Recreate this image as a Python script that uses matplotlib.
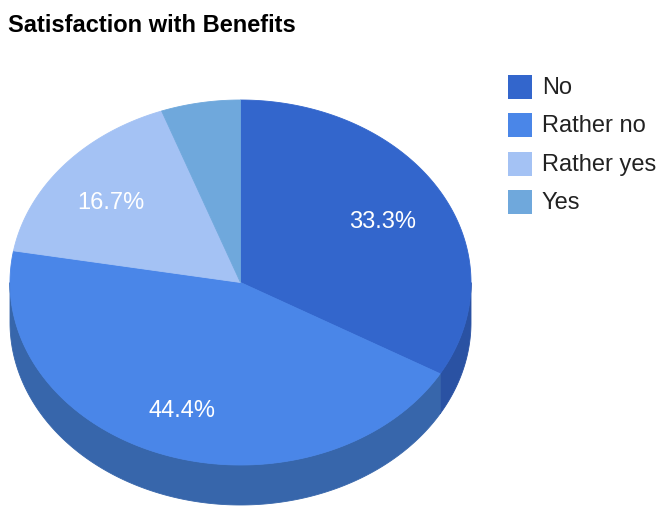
import numpy as np
import matplotlib
matplotlib.use("Agg")
import matplotlib.pyplot as plt
from matplotlib.patches import Polygon, Rectangle

categories = ["No", "Rather no", "Rather yes", "Yes"]
counts = [6, 8, 3, 1]
top_colors = ["#3366cc", "#4a86e8", "#a4c2f4", "#6fa8dc"]
side_colors = ["#2a52a3", "#3766ab", "#8399c3", "#597fae"]
title = "Satisfaction with Benefits"

W, H = 661, 508
fig = plt.figure(figsize=(W / 100, H / 100), dpi=100)
ax = fig.add_axes([0, 0, 1, 1])
ax.set_xlim(0, W)
ax.set_ylim(H, 0)
ax.axis("off")

plt.rcParams["font.family"] = ["Liberation Sans", "DejaVu Sans"]

# ellipse geometry of the tilted pie (pixel units, y downward)
cx, cy, rx, ry, depth = 240.5, 282.5, 230.5, 182.5, 40


def pt(theta, dy=0.0):
    # theta: degrees clockwise from 12 o'clock
    t = np.radians(theta)
    return cx + rx * np.sin(t), cy - ry * np.cos(t) + dy


total = sum(counts)
fracs = [c / total for c in counts]
starts = np.concatenate([[0], np.cumsum(fracs)[:-1]]) * 360
ends = np.cumsum(fracs) * 360

# side walls: only the front half (90..270 degrees) is visible
for s, e, col in zip(starts, ends, side_colors):
    a, b = max(s, 90), min(e, 270)
    if b <= a:
        continue
    th = np.linspace(a, b, 200)
    upper = [pt(t) for t in th]
    lower = [pt(t, depth) for t in th[::-1]]
    ax.add_patch(Polygon(upper + lower, closed=True, facecolor=col,
                         edgecolor=col, linewidth=0.6))

# top faces
for s, e, col in zip(starts, ends, top_colors):
    th = np.linspace(s, e, 300)
    verts = [(cx, cy)] + [pt(t) for t in th]
    ax.add_patch(Polygon(verts, closed=True, facecolor=col,
                         edgecolor=col, linewidth=0.6))

# percentage labels
for s, e, f in zip(starts, ends, fracs):
    if f < 0.1:
        continue
    mid = np.radians((s + e) / 2)
    lx = cx + 0.72 * rx * np.sin(mid) - 2
    ly = cy - 0.72 * ry * np.cos(mid) + 5
    ax.text(lx, ly, f"{f * 100:.1f}%", color="white", fontsize=17,
            ha="center", va="center")

ax.text(8, 26, title, fontsize=17, fontweight="bold", color="black",
        ha="left", va="center")

# legend
for i, (name, col) in enumerate(zip(categories, top_colors)):
    y = 87 + i * 38.3
    ax.add_patch(Rectangle((508, y - 12), 24, 24, facecolor=col,
                           edgecolor="none"))
    ax.text(542, y + 1, name, fontsize=17, color="#222222",
            ha="left", va="center")

fig.savefig("out.png", dpi=100)
